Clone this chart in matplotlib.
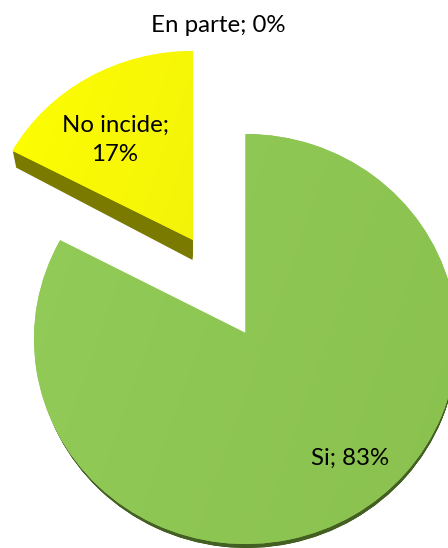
import numpy as np
import matplotlib
matplotlib.use("Agg")
import matplotlib.pyplot as plt
from matplotlib.colors import LinearSegmentedColormap
from matplotlib.transforms import Affine2D

categories = ["Si", "No incide", "En parte"]
values = [83, 17, 0]

W, H = 448, 548
fig = plt.figure(figsize=(W / 100, H / 100), dpi=100, facecolor="white")
ax = fig.add_axes([0, 0, 1, 1])


def slice_patch(index, cx, cy, rx, ry, apex_shift=0.0):
    """One slice of the pie, on an ellipse given in pixel units."""
    wedges, _ = ax.pie(values, startangle=90, counterclock=False, radius=1)
    keep = wedges[index]
    for i, w in enumerate(wedges):
        if i != index:
            w.remove()
    path = keep.get_path()
    near = np.hypot(path.vertices[:, 0], path.vertices[:, 1]) < 1e-6
    path.vertices[near, 1] += apex_shift / ry
    keep.set_transform(Affine2D().scale(rx, -ry).translate(cx, cy) + ax.transData)
    keep.set_linewidth(0)
    return keep


def gradient_fill(patch, c0, c1, edge, z):
    cmap = LinearSegmentedColormap.from_list("g", [c0, c1])
    xx, yy = np.meshgrid(np.linspace(0, 1, 64), np.linspace(0, 1, 64))
    im = ax.imshow(xx * 0.7 + yy * 0.3, cmap=cmap, extent=(0, W, H, 0),
                   aspect="auto", zorder=z, interpolation="bilinear")
    patch.set_facecolor(edge)
    patch.set_zorder(z - 0.5)
    im.set_clip_path(patch.get_path(), patch.get_transform())


def extrude(index, start, end, colour, steps=16):
    """Side of a slice: the slice swept from its top ellipse to its lower one."""
    for t in np.linspace(0, 1, steps):
        p = [a + (b - a) * t for a, b in zip(start, end)]
        rim = slice_patch(index, *p)
        rim.set_facecolor(colour)
        rim.set_zorder(1)


# green slice: side, then top (cx, cy, rx, ry, apex shift)
green_top = (245.5, 339, 211.5, 205, 6)
extrude(0, (246.5, 340.5, 210.5, 204.5, 6), (246.5, 343, 210.5, 205, 6), "#435F22")
gradient_fill(slice_patch(0, *green_top), "#94CD5A", "#8AC14F", "#90C855", 2)

# yellow slice: side, then top
yellow_top = (193, 243.5, 206, 192.5, 3.5)
extrude(1, (192.5, 245, 205, 192, 3), (192.5, 260, 201.5, 192, 0), "#7A7A00")
gradient_fill(slice_patch(1, *yellow_top), "#FFFF00", "#E4E418", "#FAFA06", 2)

ax.set_xlim(0, W)
ax.set_ylim(H, 0)
ax.set_aspect("auto")
ax.axis("off")

font = dict(family="Lato", fontsize=17.3, color="black", ha="center", va="center", zorder=5)
ax.text(350, 458, f"{categories[0]}; {values[0]}%", **font)
ax.text(115, 140, f"{categories[1]};\n{values[1]}%", linespacing=1.5, **font)
ax.text(218, 25, f"{categories[2]}; {values[2]}%", **font)

fig.savefig("out.png", dpi=100, facecolor="white")
